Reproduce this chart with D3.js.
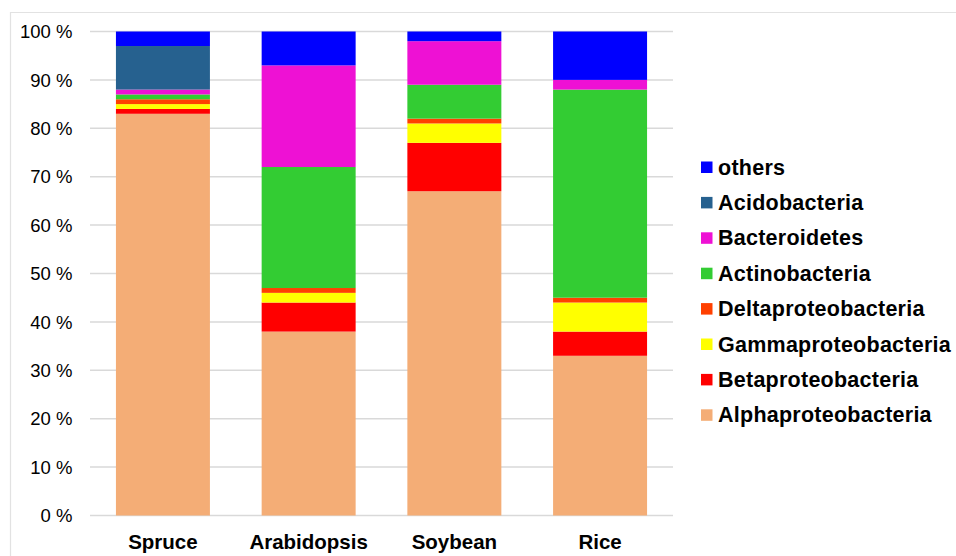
<!DOCTYPE html>
<html>
<head>
<meta charset="utf-8">
<script src="https://cdn.jsdelivr.net/npm/d3@7"></script>
<style>
  html, body { margin: 0; padding: 0; background: #fff; }
  svg { display: block; font-family: "Liberation Sans", Arial, sans-serif; }
</style>
</head>
<body>
<svg id="chart" width="956" height="556"></svg>
<script>
(function () {
  'use strict';

  var categories = ['Spruce', 'Arabidopsis', 'Soybean', 'Rice'];
  // stacking order, bottom to top
  var groups = ['Alphaproteobacteria', 'Betaproteobacteria', 'Gammaproteobacteria',
    'Deltaproteobacteria', 'Actinobacteria', 'Bacteroidetes', 'Acidobacteria', 'others'];
  var alpha = [83, 38, 67, 33];
  var beta = [1, 6, 10, 5];
  var gamma = [1, 2, 4, 6];
  var delta = [1, 1, 1, 1];
  var actino = [1, 25, 7, 43];
  var bactero = [1, 21, 9, 2];
  var acido = [9, 0, 0, 0];
  var others = [3, 7, 2, 10];
  var yTicks = [0, 10, 20, 30, 40, 50, 60, 70, 80, 90, 100];

  var series = [alpha, beta, gamma, delta, actino, bactero, acido, others];
  var colors = ['#f4ad76', '#ff0000', '#ffff00', '#ff4000', '#33cc33', '#ee11d4', '#26618f', '#0000ff'];

  var rows = categories.map(function (c, i) {
    var row = { cat: c };
    groups.forEach(function (g, j) { row[g] = series[j][i]; });
    return row;
  });

  var svg = d3.select('#chart'),
    left = 90,
    right = 673,
    top = 31.5,
    bottom = 515.5;

  // chart frame
  svg.append('path')
    .attr('d', 'M10.5,560 V12.5 H960')
    .attr('fill', 'none')
    .attr('stroke', '#e2e2e2')
    .attr('stroke-width', 1.2);

  var x = d3.scaleBand().domain(categories).range([left, right])
    .paddingInner(0.355).paddingOuter(0.178);
  var y = d3.scaleLinear().domain([0, 100]).range([bottom, top]);

  svg.append('g').selectAll('line').data(yTicks).enter().append('line')
    .attr('x1', left).attr('x2', right)
    .attr('y1', function (d) { return y(d); })
    .attr('y2', function (d) { return y(d); })
    .attr('stroke', '#d9d9d9')
    .attr('stroke-width', 1.5);

  svg.append('g').selectAll('text').data(yTicks).enter().append('text')
    .attr('x', 72.5)
    .attr('y', function (d) { return y(d); })
    .attr('dy', '0.36em')
    .attr('text-anchor', 'end')
    .attr('font-size', 18.5)
    .attr('fill', '#000')
    .text(function (d) { return d + ' %'; });

  var stacked = d3.stack().keys(groups)(rows);

  svg.append('g').selectAll('g').data(stacked).enter().append('g')
    .attr('fill', function (d, i) { return colors[i]; })
    .selectAll('rect').data(function (d) { return d; }).enter().append('rect')
    .attr('x', function (d) { return x(d.data.cat); })
    .attr('width', x.bandwidth())
    .attr('y', function (d) { return y(d[1]); })
    .attr('height', function (d) { return y(d[0]) - y(d[1]); });

  svg.append('g').selectAll('text').data(categories).enter().append('text')
    .attr('x', function (d) { return x(d) + x.bandwidth() / 2; })
    .attr('y', 549)
    .attr('text-anchor', 'middle')
    .attr('font-size', 20.5)
    .attr('font-weight', 'bold')
    .text(function (d) { return d; });

  var legendItems = groups.slice().reverse();
  var legend = svg.append('g').selectAll('g').data(legendItems).enter().append('g')
    .attr('transform', function (d, i) { return 'translate(701,' + (174 + i * 35.4) + ')'; });

  legend.append('rect')
    .attr('x', 0).attr('y', -12.5)
    .attr('width', 11.5).attr('height', 11.5)
    .attr('fill', function (d) { return colors[groups.indexOf(d)]; });

  legend.append('text')
    .attr('x', 17)
    .attr('y', 0.5)
    .attr('font-size', 21.5)
    .attr('letter-spacing', 0.25)
    .attr('font-weight', 'bold')
    .text(function (d) { return d; });
})();
</script>
</body>
</html>
